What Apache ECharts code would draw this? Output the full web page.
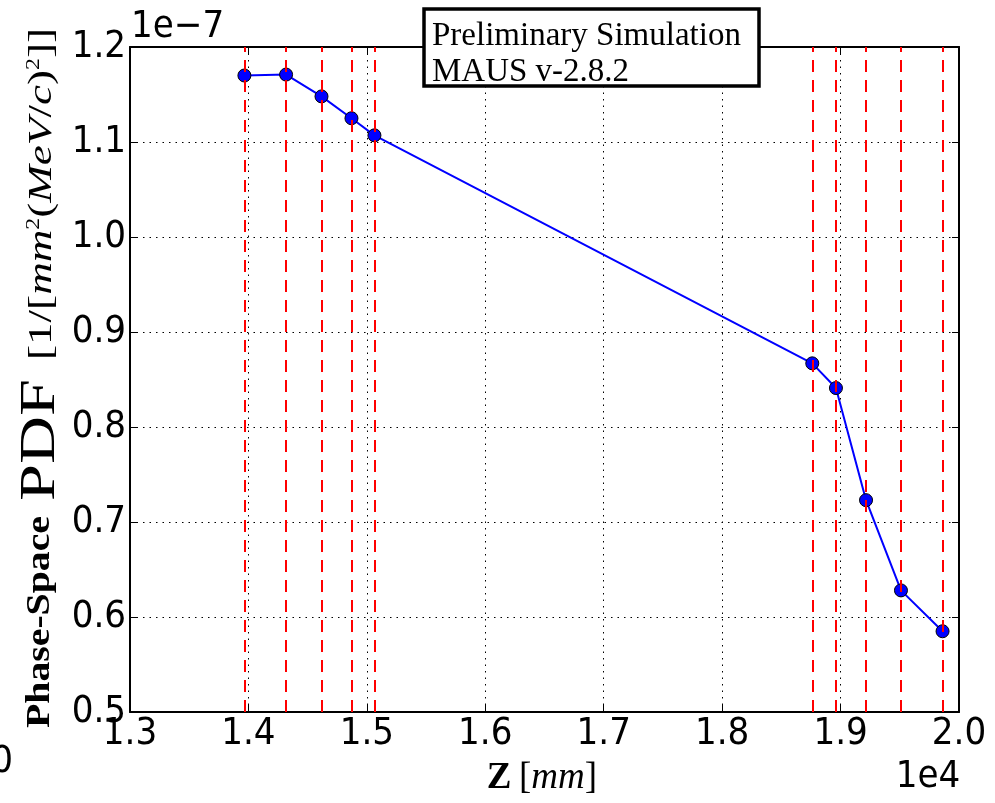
<!DOCTYPE html>
<html>
<head>
<meta charset="utf-8">
<script src="https://cdn.jsdelivr.net/npm/echarts@6/dist/echarts.min.js"></script>
<style>
html,body{margin:0;padding:0;background:#fff;}
#chart{width:995px;height:803px;}
</style>
</head>
<body>
<div id="chart"></div>
<script>
// ---- data ----
const zStations = [13966, 14318, 14617, 14870, 15064, 18761, 18961, 19215, 19510, 19861]; // mm
const pdfScaled = [1.170, 1.171, 1.148, 1.125, 1.107, 0.867, 0.841, 0.723, 0.628, 0.585]; // x 1e-7
const xTickMin = 13000, xTickMax = 20000, xTickStep = 1000;
const yTickMin = 0.5, yTickMax = 1.2, yTickStep = 0.1;
const xScaleLabel = '1e4';
const yScaleLabel = '1e\u22127';
const titleLines = ['Preliminary Simulation', 'MAUS v-2.8.2'];

// ---- styling ----
const sansFont = '"DejaVu Sans Condensed", "DejaVu Sans", sans-serif';
const serifFont = '"Liberation Serif", "Times New Roman", serif';
const tickFontSize = 38;

function measure(text, font) {
  const c = document.createElement('canvas').getContext('2d');
  c.font = font;
  return c.measureText(text).width;
}

const chart = echarts.init(document.getElementById('chart'));

const axisLineStyle = { color: '#000', width: 2 };
const gridLineStyle = { color: '#000', width: 1, type: [1.5, 5] };

// rotated y label pieces
const phaseFont = 'bold 33px ' + serifFont;
const phaseScale = 212 / measure('Phase-Space', phaseFont);
const pdfFont = '50px ' + serifFont;
const pdfScale = 122 / measure('PDF', pdfFont);
const unitW = measure('[1/[', '34px ' + serifFont) + measure('mm', 'italic 34px ' + serifFont) +
  measure('2', '18px ' + serifFont) * 2 + measure('(', '34px ' + serifFont) +
  measure('MeV', 'italic 34px ' + serifFont) + measure('/', '34px ' + serifFont) +
  measure('c', 'italic 34px ' + serifFont) + measure(')', '34px ' + serifFont) +
  measure(']]', '34px ' + serifFont);
const unitScale = 332 / unitW;

const option = {
  animation: false,
  backgroundColor: '#fff',
  grid: { left: 130, right: 36, top: 47, bottom: 91, containLabel: false },
  xAxis: [{
    type: 'value', min: xTickMin, max: xTickMax, interval: xTickStep,
    axisLine: { onZero: false, lineStyle: axisLineStyle },
    axisTick: { inside: true, length: 7, lineStyle: { color: '#000', width: 1 } },
    axisLabel: {
      formatter: v => (v / 10000).toFixed(1),
      fontSize: tickFontSize, fontFamily: sansFont, color: '#000', margin: 3
    },
    splitLine: { show: true, lineStyle: gridLineStyle }
  }, {
    type: 'value', position: 'top', min: xTickMin, max: xTickMax, interval: xTickStep,
    axisLine: { onZero: false, lineStyle: axisLineStyle },
    axisTick: { inside: true, length: 7, lineStyle: { color: '#000', width: 1 } },
    axisLabel: { show: false }, splitLine: { show: false }
  }],
  yAxis: [{
    type: 'value', min: yTickMin, max: yTickMax, interval: yTickStep,
    axisLine: { onZero: false, lineStyle: axisLineStyle },
    axisTick: { inside: true, length: 7, lineStyle: { color: '#000', width: 1 } },
    axisLabel: {
      formatter: v => v.toFixed(1),
      fontSize: tickFontSize, fontFamily: sansFont, color: '#000', margin: 4
    },
    splitLine: { show: true, lineStyle: gridLineStyle }
  }, {
    type: 'value', position: 'right', min: yTickMin, max: yTickMax, interval: yTickStep,
    axisLine: { onZero: false, lineStyle: axisLineStyle },
    axisTick: { inside: true, length: 7, lineStyle: { color: '#000', width: 1 } },
    axisLabel: { show: false }, splitLine: { show: false }
  }],
  series: [{
    type: 'line',
    z: 3,
    data: zStations.map((z, i) => [z, pdfScaled[i]]),
    lineStyle: { color: '#0000ff', width: 2 },
    symbol: 'circle', symbolSize: 13,
    itemStyle: { color: '#0000ff', borderColor: '#000', borderWidth: 1 }
  }, {
    type: 'line',
    z: 5,
    data: [],
    markLine: {
      silent: true, symbol: ['none', 'none'], animation: false,
      label: { show: false },
      lineStyle: { color: '#ff0000', width: 2, type: [12, 8] },
      data: zStations.map(z => ({ xAxis: z }))
    }
  }],
  graphic: [
    // title box
    { type: 'rect', z: 100, shape: { x: 424, y: 9, width: 335, height: 77 },
      style: { fill: '#fff', stroke: '#000', lineWidth: 3.5 } },
    { type: 'text', z: 101, x: 432, y: 36,
      style: { text: titleLines[0], font: '33px ' + serifFont, fill: '#000', align: 'left', verticalAlign: 'middle' } },
    { type: 'text', z: 101, x: 432, y: 72,
      style: { text: titleLines[1], font: '33px ' + serifFont, fill: '#000', align: 'left', verticalAlign: 'middle' } },
    // axis offset labels
    { type: 'text', z: 50, x: 131, y: 27,
      style: { text: yScaleLabel, font: tickFontSize + 'px ' + sansFont, fill: '#000', align: 'left', verticalAlign: 'middle' } },
    { type: 'text', z: 50, x: 928, y: 777,
      style: { text: xScaleLabel, font: tickFontSize + 'px ' + sansFont, fill: '#000', align: 'center', verticalAlign: 'middle' } },
    { type: 'text', z: 50, x: 2, y: 762,
      style: { text: '0', font: tickFontSize + 'px ' + sansFont, fill: '#000', align: 'center', verticalAlign: 'middle' } },
    // x label
    { type: 'text', z: 50, x: 542, y: 778,
      style: {
        text: '{b|Z}{sp|\u00a0}{r|[}{i|mm}{r|]}', align: 'center', verticalAlign: 'middle',
        rich: {
          b: { fontFamily: serifFont, fontWeight: 'bold', fontSize: 37, fill: '#000' },
          sp: { fontFamily: serifFont, fontSize: 30, fill: '#000' },
          r: { fontFamily: serifFont, fontSize: 37, fill: '#000' },
          i: { fontFamily: serifFont, fontStyle: 'italic', fontSize: 37, fill: '#000' }
        }
      } },
    // y label pieces
    { type: 'text', z: 50, x: 40, y: 622, rotation: Math.PI / 2, scaleX: phaseScale,
      style: { text: 'Phase-Space', font: phaseFont, fill: '#000', align: 'center', verticalAlign: 'middle' } },
    { type: 'text', z: 50, x: 41, y: 440, rotation: Math.PI / 2, scaleX: pdfScale,
      style: { text: 'PDF', font: pdfFont, fill: '#000', align: 'center', verticalAlign: 'middle' } },
    { type: 'text', z: 50, x: 42, y: 194, rotation: Math.PI / 2, scaleX: unitScale,
      style: {
        text: '{r|[1/[}{i|mm}{s|2}{r|(}{i|MeV}{r|/}{i|c}{r|)}{s|2}{r|]]}', align: 'center', verticalAlign: 'middle',
        rich: {
          r: { fontFamily: serifFont, fontSize: 34, fill: '#000' },
          i: { fontFamily: serifFont, fontStyle: 'italic', fontSize: 34, fill: '#000' },
          s: { fontFamily: serifFont, fontSize: 18, fill: '#000', verticalAlign: 'top' }
        }
      } }
  ]
};
chart.setOption(option);
</script>
</body>
</html>
